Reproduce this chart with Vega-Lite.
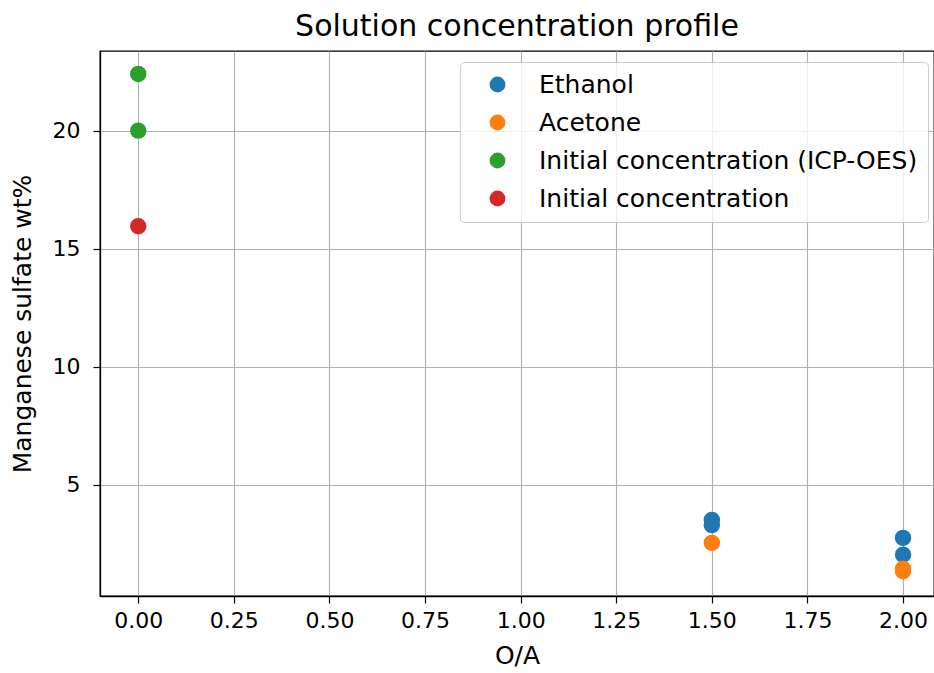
{
  "$schema": "https://vega.github.io/schema/vega-lite/v6.json",
  "width": 834,
  "height": 545,
  "autosize": {"type": "none"},
  "padding": {"left": 100, "top": 51, "right": 0, "bottom": 77},
  "background": "white",
  "title": {"text": "Solution concentration profile", "font": "DejaVu Sans", "fontSize": 30, "fontWeight": "normal", "color": "#000000", "offset": 9, "anchor": "middle", "frame": "group"},
  "config": {
    "view": {"stroke": "#000000", "strokeWidth": 1.3},
    "axis": {
      "labelFont": "DejaVu Sans", "labelFontSize": 22, "labelColor": "#000000",
      "titleFont": "DejaVu Sans", "titleFontSize": 25, "titleFontWeight": "normal", "titleColor": "#000000",
      "domainColor": "#000000", "domainWidth": 1.3, "tickColor": "#000000", "tickSize": 7, "tickWidth": 1.2, "gridColor": "#b0b0b0", "gridWidth": 1.1
    }
  },
  "data": {"values": [
    {"OA": 1.5, "wt": 3.52, "series": "Ethanol"},
    {"OA": 1.5, "wt": 3.30, "series": "Ethanol"},
    {"OA": 2.0, "wt": 2.76, "series": "Ethanol"},
    {"OA": 2.0, "wt": 2.05, "series": "Ethanol"},
    {"OA": 1.5, "wt": 2.55, "series": "Acetone"},
    {"OA": 2.0, "wt": 1.45, "series": "Acetone"},
    {"OA": 2.0, "wt": 1.35, "series": "Acetone"},
    {"OA": 0.0, "wt": 22.4, "series": "Initial concentration (ICP-OES)"},
    {"OA": 0.0, "wt": 20.0, "series": "Initial concentration (ICP-OES)"},
    {"OA": 0.0, "wt": 15.95, "series": "Initial concentration"}
  ]},
  "mark": {"type": "circle", "size": 270, "opacity": 1},
  "encoding": {
    "x": {"field": "OA", "type": "quantitative", "title": "O/A",
      "scale": {"domain": [-0.1, 2.081], "nice": false, "zero": false},
      "axis": {"values": [0, 0.25, 0.5, 0.75, 1.0, 1.25, 1.5, 1.75, 2.0], "format": ".2f", "labelPadding": 7, "titlePadding": 12}},
    "y": {"field": "wt", "type": "quantitative", "title": "Manganese sulfate wt%",
      "scale": {"domain": [0.30, 23.37], "nice": false, "zero": false},
      "axis": {"values": [5, 10, 15, 20], "labelPadding": 13, "titlePadding": 17}},
    "color": {"field": "series", "type": "nominal", "title": null,
      "scale": {"domain": ["Ethanol", "Acetone", "Initial concentration (ICP-OES)", "Initial concentration"],
                "range": ["#1f77b4", "#ff7f0e", "#2ca02c", "#d62728"]},
      "legend": {"orient": "none", "legendX": 360, "legendY": 11, "fillColor": "rgba(255,255,255,0.8)", "strokeColor": "#cccccc",
        "cornerRadius": 4, "padding": 10, "labelFont": "DejaVu Sans", "labelFontSize": 25, "labelColor": "#000000",
        "symbolType": "circle", "symbolSize": 250, "symbolOpacity": 1, "symbolStrokeWidth": 0, "rowPadding": 12, "labelOffset": 29, "symbolOffset": 15, "labelLimit": 600}}
  }
}
